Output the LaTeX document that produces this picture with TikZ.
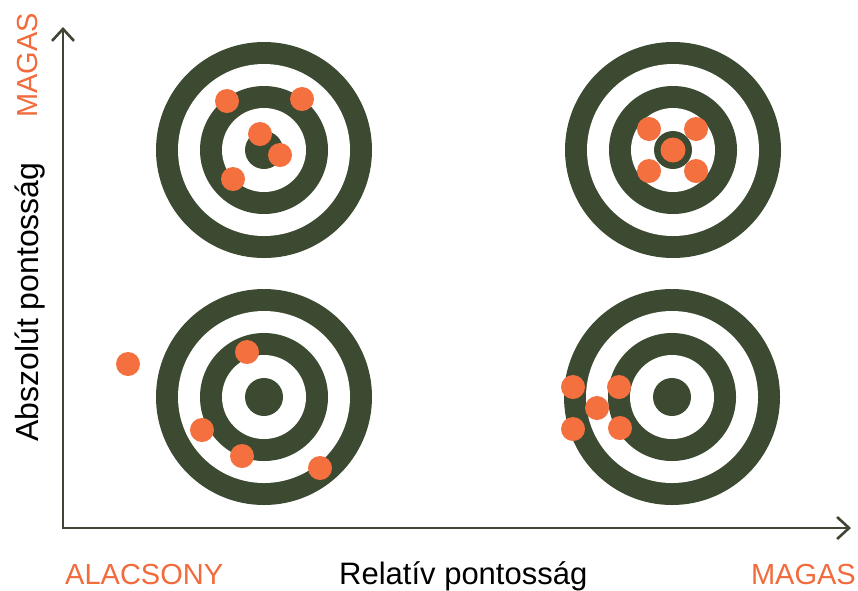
\documentclass[tikz,border=0pt]{standalone}
\usepackage{fontspec}
\setmainfont{Liberation Sans}
\usetikzlibrary{arrows.meta}
\definecolor{olive}{HTML}{3C4A31}
\definecolor{axiscol}{HTML}{3F4636}
\definecolor{shot}{HTML}{F4703F}
\definecolor{lbl}{HTML}{F26B3C}
\tikzset{
  bullseye/.pic={
    \fill[olive] (0,0) circle (108);
    \fill[white] (0,0) circle (86);
    \fill[olive] (0,0) circle (64);
    \fill[white] (0,0) circle (42);
    \fill[olive] (0,0) circle (19);
  },
  axisline/.style={draw=axiscol, line width=2.6pt, -{Straight Barb[length=12pt,width=22pt,line width=2.6pt]}},
  lowtxt/.style={font=\fontsize{29}{32}\selectfont, inner sep=0pt},
  axtxt/.style={font=\fontsize{31}{34}\selectfont, inner sep=0pt},
}
\newcommand\shotat[1]{\fill[shot] #1 circle (12);}
\begin{document}
\begin{tikzpicture}[x=1pt,y=-1pt]
\useasboundingbox (0,0) rectangle (858,590);
\fill[white] (0,0) rectangle (858,590);
% targets
\pic at (264,150) {bullseye};
\pic at (673,150) {bullseye};
\pic at (264,397) {bullseye};
\pic at (672,397) {bullseye};
% top-right centre shot inside the bull
\fill[shot] (673,150) circle (12.5);
% shots top-left
\shotat{(227,101)}
\shotat{(302,99)}
\shotat{(260,134)}
\shotat{(280,155)}
\shotat{(233,179)}
% shots top-right
\shotat{(649,129)}
\shotat{(696,129)}
\shotat{(649,171)}
\shotat{(696,171)}
% shots bottom-left
\shotat{(128,364)}
\shotat{(247,352)}
\shotat{(202,430)}
\shotat{(242,456)}
\shotat{(320,468)}
% shots bottom-right
\shotat{(573,387)}
\shotat{(619,387)}
\shotat{(597,408)}
\shotat{(573,429)}
\shotat{(620,428)}
% axes
\coordinate (O) at (63,528);
\coordinate (Ytop) at (63,27);
\coordinate (Xend) at (851,528);
\draw[axisline] ([yshift=1.3pt]O) -- (Ytop);
\draw[axisline] ([xshift=-1.3pt]O) -- (Xend);
% labels
\node[lowtxt, text=lbl, anchor=base west] (low) at (65,584) {ALACSONY};
\node[axtxt, text=black, anchor=base west] (xlab) at (339,584) {Relatív pontosság};
\node[lowtxt, text=lbl, anchor=base east] (xhigh) at (856,584) {MAGAS};
\node[axtxt, font=\fontsize{32}{34}\selectfont, text=black, anchor=base west, rotate=90] (ylab) at (38,442) {Abszolút pontosság};
\node[lowtxt, text=lbl, anchor=base west, rotate=90] (yhigh) at (37,118) {MAGAS};
\end{tikzpicture}
\end{document}
